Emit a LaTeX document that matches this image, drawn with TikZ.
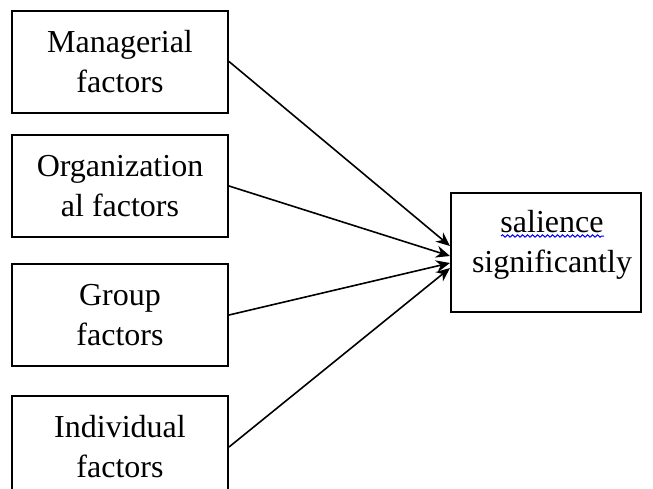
\documentclass[tikz,border=0pt]{standalone}
\usepackage{fontspec}
\setmainfont{Liberation Serif}
\usetikzlibrary{arrows.meta,calc,decorations.pathmorphing}

\begin{document}
\begin{tikzpicture}[x=0.5pt,y=-0.5pt,
        factorbox/.style={draw,line width=1pt,minimum width=108pt,minimum height=51pt,align=center,inner sep=0pt},
        >={Stealth[length=7pt,width=6pt]}]
        \useasboundingbox (0,0) rectangle (653,488);
        \fontsize{16pt}{20pt}\selectfont
        % left column
        \node[factorbox] (man) at (120,61.5) {Managerial\\factors};
        \node[factorbox] (org) at (120,186) {Organization\\al factors};
        \node[factorbox] (grp) at (120,315) {Group\\factors};
        \node[factorbox] (ind) at (120,447) {Individual\\factors};
        % right box
        \node[factorbox,minimum width=95pt,minimum height=59.5pt] (sal) at (546,252.5) {};
        \node[align=center,inner sep=0pt] (saltext) at (552,245) {salience\\significantly};
        \draw[blue,line width=0.5pt,decorate,decoration={snake,amplitude=0.6pt,segment length=2.5pt}]
            ($(saltext.center)+(-51,-9)$) -- ($(saltext.center)+(52,-9)$);
        % arrows
        \draw[->,line width=0.8pt] (man.east) -- ($(sal.west)+(0,-6.5)$);
        \draw[->,line width=0.8pt] (org.east) -- ($(sal.west)+(0,3.5)$);
        \draw[->,line width=0.8pt] (grp.east) -- ($(sal.west)+(0,10.5)$);
        \draw[->,line width=0.8pt] (ind.east) -- ($(sal.west)+(0,15.5)$);
    \end{tikzpicture}
\end{document}
